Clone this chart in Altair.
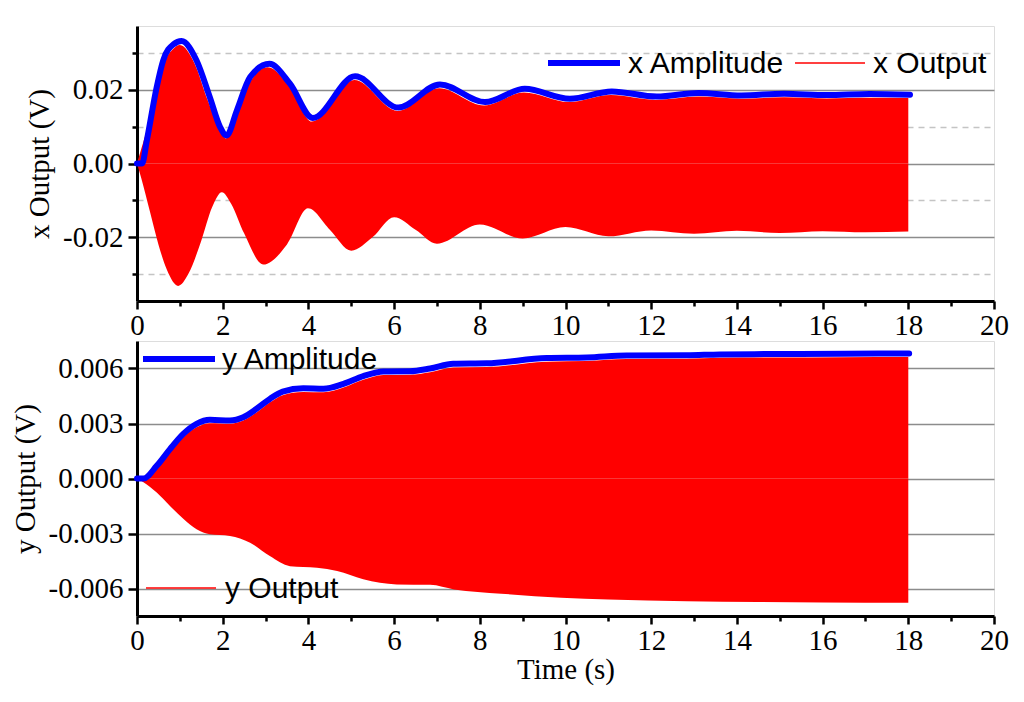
import altair as alt
import pandas as pd

# ---------------- data ----------------
# top panel: x amplitude (blue envelope)
xa_t = [0, 0.12, 0.23, 0.46, 0.61, 0.85, 1.04, 1.39, 1.70, 1.94, 2.09, 2.33, 2.64, 3.09,
        3.57, 4.10, 5.09, 6.10, 7.07, 8.12, 9.05, 10.1, 11.08, 12.13, 13.1, 14.1, 15.1,
        16.1, 17.1, 18.04]
xa_v = [0, 0, 0.0063, 0.0208, 0.0280, 0.0324, 0.0333, 0.0280, 0.0180, 0.0099, 0.0076,
        0.0144, 0.0235, 0.0271, 0.0217, 0.0124, 0.0237, 0.0152, 0.0215, 0.0167, 0.0203,
        0.0176, 0.0196, 0.0182, 0.0192, 0.0185, 0.0190, 0.0186, 0.0189, 0.0187]

# top panel: x output, upper edge of the oscillation
xu_t = [0, 0.10, 0.25, 0.45, 0.65, 0.85, 1.00, 1.35, 1.65, 1.95, 2.07, 2.35, 2.65, 3.05,
        3.57, 4.08, 5.07, 6.08, 7.05, 8.10, 9.03, 10.08, 11.06, 12.10, 13.1, 14.1, 15.1,
        16.1, 17.1, 18.0]
xu_v = [0, 0.0040, 0.0100, 0.0200, 0.0278, 0.0312, 0.0322, 0.0270, 0.0172, 0.0090, 0.0068,
        0.0134, 0.0224, 0.0262, 0.0207, 0.0114, 0.0227, 0.0143, 0.0205, 0.0158, 0.0193,
        0.0167, 0.0186, 0.0173, 0.0182, 0.0176, 0.0180, 0.0177, 0.0179, 0.0178]

# top panel: x output, lower edge of the oscillation
xl_t = [0, 0.10, 0.30, 0.50, 0.70, 0.96, 1.20, 1.50, 1.75, 1.98, 2.20, 2.50, 2.95, 3.50,
        3.99, 4.50, 5.00, 5.50, 6.00, 6.50, 7.00, 8.00, 9.00, 10.0, 11.0, 12.0, 13.0,
        14.0, 15.0, 16.0, 17.0, 18.0]
xl_v = [0, -0.0040, -0.0130, -0.0220, -0.0290, -0.0333, -0.0300, -0.0210, -0.0120, -0.0078,
        -0.0110, -0.0190, -0.0275, -0.0220, -0.0122, -0.0180, -0.0237, -0.0200, -0.0146,
        -0.0180, -0.0218, -0.0166, -0.0204, -0.0173, -0.0198, -0.0182, -0.0191, -0.0183,
        -0.0189, -0.0184, -0.0187, -0.0185]

# bottom panel: y amplitude (blue envelope)
ya_t = [0, 0.15, 0.46, 0.77, 1.08, 1.39, 1.70, 2.17, 2.48, 2.79, 3.10, 3.40, 3.88, 4.35,
        4.82, 5.28, 5.75, 6.37, 6.84, 7.38, 8.16, 9.56, 10.5, 11.43, 12.83, 13.6, 15.0,
        16.5, 18.02]
ya_v = [0, 0, 0.00069, 0.00160, 0.00243, 0.00298, 0.00320, 0.00316, 0.00334, 0.00380,
        0.00434, 0.00474, 0.00492, 0.00489, 0.00516, 0.00558, 0.00584, 0.00585, 0.00600,
        0.00626, 0.00628, 0.00657, 0.00660, 0.00671, 0.00672, 0.00677, 0.00679, 0.00681,
        0.00682]

# bottom panel: y output, upper edge
yu_t = [0, 0.15, 0.46, 0.77, 1.08, 1.39, 1.70, 2.17, 2.48, 2.79, 3.10, 3.40, 3.88, 4.35,
        4.82, 5.28, 5.75, 6.37, 6.84, 7.38, 8.16, 9.56, 10.5, 11.43, 12.83, 13.6, 15.0,
        16.5, 18.0]
yu_v = [0, 0.00008, 0.00055, 0.00143, 0.00225, 0.00280, 0.00302, 0.00298, 0.00316, 0.00360,
        0.00414, 0.00454, 0.00472, 0.00470, 0.00496, 0.00538, 0.00564, 0.00566, 0.00580,
        0.00606, 0.00608, 0.00637, 0.00641, 0.00652, 0.00653, 0.00658, 0.00660, 0.00662,
        0.00663]

# bottom panel: y output, lower edge
yl_t = [0, 0.15, 0.46, 0.77, 1.08, 1.39, 1.70, 2.17, 2.64, 3.10, 3.57, 4.20, 4.67, 5.28,
        6.06, 6.84, 7.40, 8.5, 9.90, 11.0, 12.83, 14.5, 16.0, 18.0]
yl_v = [0, -0.00020, -0.00077, -0.00150, -0.00220, -0.00277, -0.00304, -0.00313, -0.00350,
        -0.00423, -0.00478, -0.00487, -0.00505, -0.00550, -0.00578, -0.00580, -0.00605,
        -0.00628, -0.00650, -0.00660, -0.00670, -0.00674, -0.00677, -0.00678]

x_ticks = list(range(0, 21))
top_y_ticks = [-0.03, -0.02, -0.01, 0.0, 0.01, 0.02, 0.03]
bot_y_ticks = [-0.0060, -0.0045, -0.0030, -0.0015, 0.0, 0.0015, 0.0030, 0.0045, 0.0060]

# ---------------- styling ----------------
W, H = 857, 275
SERIF = "Liberation Serif"
SANS = "Liberation Sans"
BLUE = "#0000ff"
RED = "#ff0000"
FS = 29
LFS = 30

def x_axis(title):
    kw = dict(
        values=x_ticks,
        labelExpr="datum.value % 2 === 0 ? format(datum.value, 'd') : ''",
        tickSize={"condition": {"test": "datum.value % 2 === 0", "value": 8}, "value": 5},
        grid=False,
        domainColor="black", domainWidth=3,
        tickColor="black", tickWidth=2.5,
        labelFont=SERIF, labelFontSize=FS, labelColor="black", labelPadding=2,
        labelFlush=False, labelOverlap=False,
        titleFont=SERIF, titleFontSize=FS, titleFontWeight="normal", titleColor="black",
        titlePadding=0,
    )
    kw["title"] = title
    return alt.Axis(**kw)

def y_axis(title, values, major_test, fmt):
    return alt.Axis(
        title=title,
        values=values,
        labelExpr=f"({major_test}) ? replace(format(datum.value, '{fmt}'), '\u2212', '-') : ''",
        tickSize={"condition": {"test": major_test, "value": 9}, "value": 5},
        grid=True,
        gridColor={"condition": {"test": major_test, "value": "#8c8c8c"}, "value": "#c4c4c4"},
        gridDash={"condition": {"test": major_test, "value": [1, 0]}, "value": [6, 5]},
        gridWidth=1.5,
        domainColor="black", domainWidth=3,
        tickColor="black", tickWidth=2.5,
        labelFont=SERIF, labelFontSize=FS, labelColor="black", labelPadding=5,
        labelFlush=False, labelOverlap=False,
        titleFont=SERIF, titleFontSize=FS, titleFontWeight="normal", titleColor="black",
        titlePadding=8,
    )

def panel(upper_t, upper_v, lower_t, lower_v, amp_t, amp_v, ydom, yax, xax, legend_layers):
    up = pd.DataFrame({"t": upper_t, "v": upper_v, "z": [0] * len(upper_t)})
    lo = pd.DataFrame({"t": lower_t, "v": lower_v, "z": [0] * len(lower_t)})
    am = pd.DataFrame({"t": amp_t, "v": amp_v})
    xs = alt.Scale(domain=[0, 20], nice=False, zero=False)
    ys = alt.Scale(domain=ydom, nice=False, zero=False)
    a1 = alt.Chart(up).mark_area(color=RED, interpolate="monotone", opacity=1).encode(
        x=alt.X("t:Q", scale=xs, axis=xax),
        y=alt.Y("v:Q", scale=ys, axis=yax),
        y2="z:Q",
    )
    a2 = alt.Chart(lo).mark_area(color=RED, interpolate="monotone", opacity=1).encode(
        x="t:Q", y="v:Q", y2="z:Q"
    )
    ln = alt.Chart(am).mark_line(color=BLUE, strokeWidth=6, interpolate="monotone",
                                 strokeCap="round").encode(x="t:Q", y="v:Q")
    return alt.layer(a1, a2, ln, *legend_layers).properties(width=W, height=H)

one = alt.Data(values=[{"a": 1}])

def leg_line(x1, x2, y, color, w):
    return alt.Chart(one).mark_rule(color=color, strokeWidth=w).encode(
        x=alt.value(x1), x2=alt.value(x2), y=alt.value(y))

def leg_text(x, y, txt):
    return alt.Chart(one).mark_text(text=txt, font=SANS, fontSize=LFS, align="left",
                                    baseline="middle", color="black").encode(
        x=alt.value(x), y=alt.value(y))

top_leg = [
    leg_line(411, 483, 37, BLUE, 6), leg_text(491, 38, "x Amplitude"),
    leg_line(658, 728, 37, RED, 1.5), leg_text(736, 38, "x Output"),
]
bot_leg = [
    leg_line(6, 78, 18, BLUE, 6), leg_text(85, 19, "y Amplitude"),
    leg_line(9, 79, 247, RED, 1.5), leg_text(88, 248, "y Output"),
]

top = panel(xu_t, xu_v, xl_t, xl_v, xa_t, xa_v, [-0.0374, 0.0374],
            y_axis("x Output (V)", top_y_ticks, "round(datum.value*100) % 2 === 0", ".2f"),
            x_axis(None), top_leg)
bot = panel(yu_t, yu_v, yl_t, yl_v, ya_t, ya_v, [-0.0075, 0.0075],
            y_axis("y Output (V)", bot_y_ticks, "round(datum.value*2000) % 2 === 0", ".3f"),
            x_axis("Time (s)"), bot_leg)

chart = alt.vconcat(top, bot, spacing=40, bounds="flush").properties(
    padding={"top": 17, "left": 2, "right": 5, "bottom": 5}
).configure_view(stroke=None).configure(background="white")

chart.save("out.html", embed_options={"renderer": "svg", "actions": False})
